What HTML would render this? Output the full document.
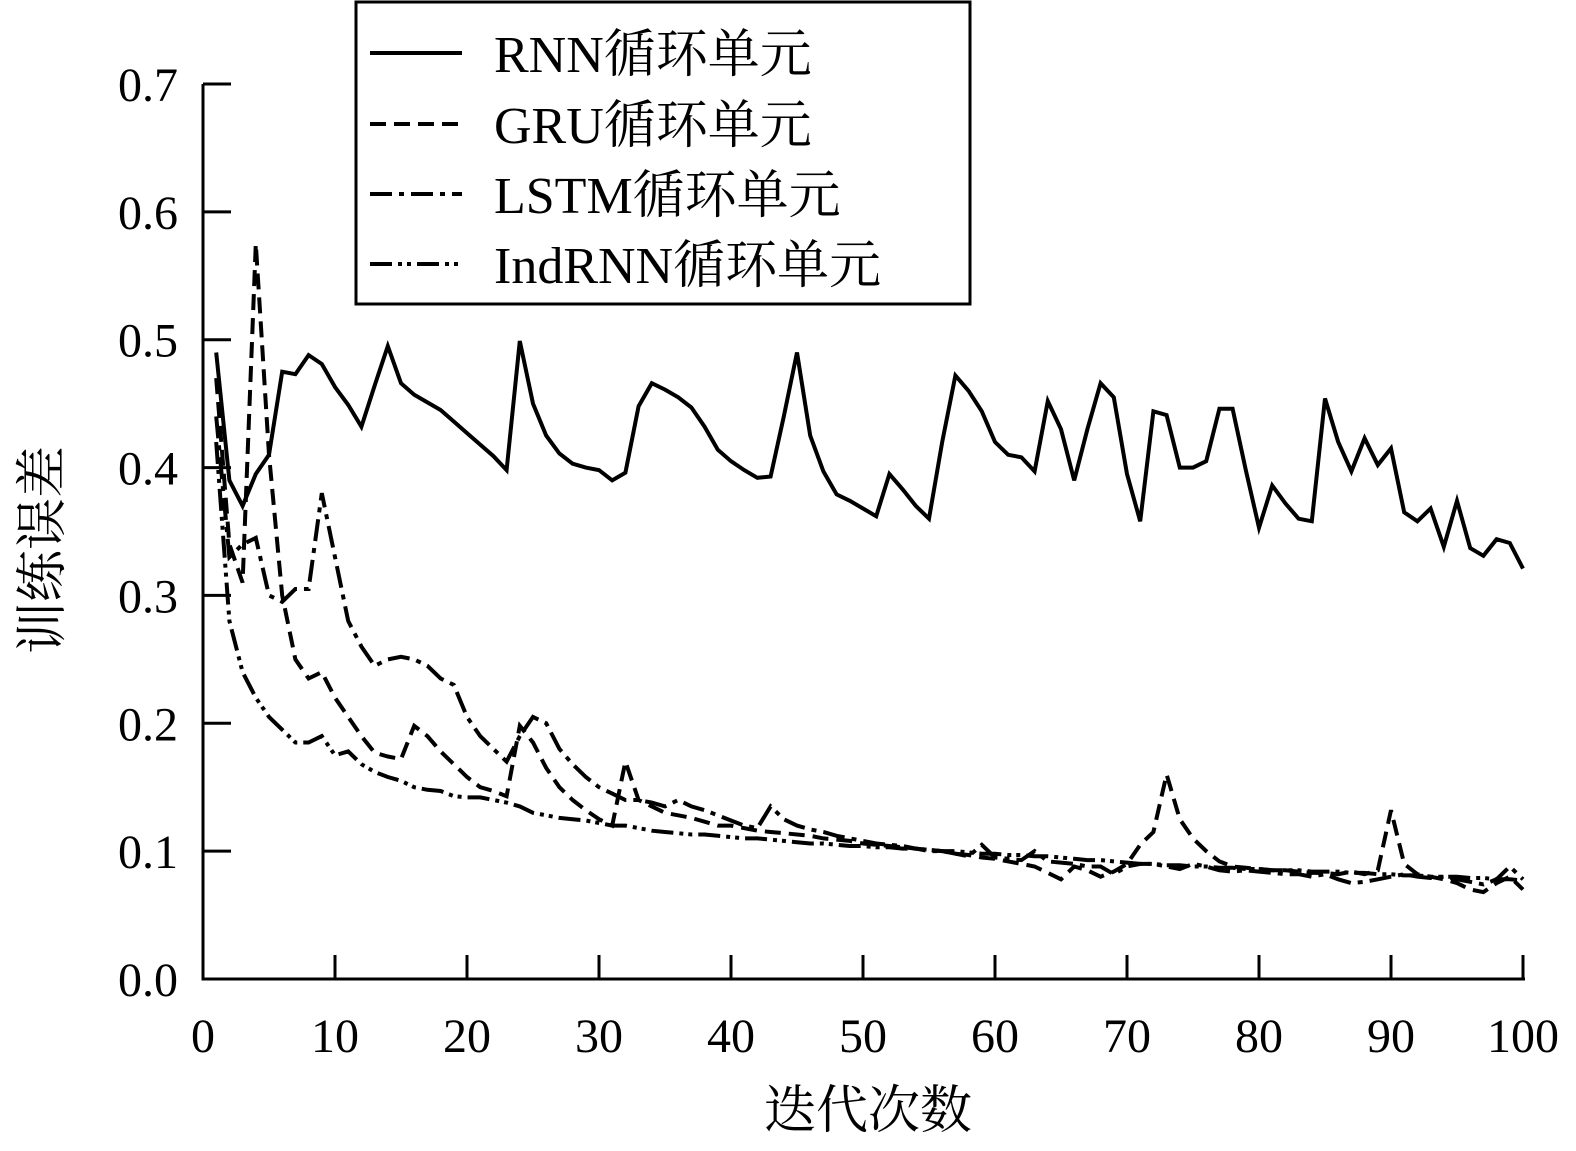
<!DOCTYPE html>
<html><head><meta charset="utf-8"><style>
html,body{margin:0;padding:0;background:#fff;}
svg{display:block;}
text{font-family:"Liberation Serif","Noto Serif CJK SC",serif;fill:#000;}
</style></head><body>
<svg id="chart" width="1576" height="1151" viewBox="0 0 1576 1151" xmlns="http://www.w3.org/2000/svg">
<g id="plot"></g>
<g id="axes"></g>
<text x="0" y="0" font-size="52" text-anchor="middle" transform="translate(60,550) rotate(-90)">训练误差</text>
<text x="868" y="1128" font-size="52" text-anchor="middle">迭代次数</text>
<g>
<rect x="356" y="2" width="614" height="302" fill="#fff" stroke="#000" stroke-width="3"/>
<line x1="370" y1="53" x2="462" y2="53" stroke="#000" stroke-width="4"/>
<text x="494" y="72" font-size="52">RNN循环单元</text>
<line x1="370" y1="124" x2="462" y2="124" stroke="#000" stroke-width="4" stroke-dasharray="16 8"/>
<text x="494" y="143" font-size="52">GRU循环单元</text>
<line x1="370" y1="194" x2="462" y2="194" stroke="#000" stroke-width="4" stroke-dasharray="22 7 5 7"/>
<text x="494" y="213" font-size="52">LSTM循环单元</text>
<line x1="370" y1="264" x2="462" y2="264" stroke="#000" stroke-width="4" stroke-dasharray="22 6 4 5 4 6"/>
<text x="494" y="283" font-size="52">IndRNN循环单元</text>
</g>
</svg>
<script>
const xTicks = [0,10,20,30,40,50,60,70,80,90,100];
const yTicks = [0.0,0.1,0.2,0.3,0.4,0.5,0.6,0.7];
const yTickLabels = ["0.0","0.1","0.2","0.3","0.4","0.5","0.6","0.7"];
const rnn = [0.49,0.39,0.37,0.395,0.41,0.475,0.473,0.488,0.481,0.463,0.449,0.432,0.464,0.495,0.466,0.457,0.451,0.445,0.436,0.427,0.418,0.409,0.398,0.499,0.45,0.425,0.411,0.403,0.4,0.398,0.39,0.396,0.448,0.466,0.461,0.455,0.447,0.432,0.414,0.405,0.398,0.392,0.393,0.44,0.49,0.425,0.397,0.379,0.374,0.368,0.362,0.395,0.383,0.37,0.36,0.42,0.472,0.46,0.444,0.42,0.41,0.408,0.397,0.452,0.43,0.39,0.43,0.466,0.455,0.395,0.358,0.444,0.441,0.4,0.4,0.405,0.446,0.446,0.398,0.353,0.386,0.372,0.36,0.358,0.454,0.42,0.397,0.423,0.402,0.415,0.365,0.358,0.368,0.338,0.374,0.337,0.331,0.344,0.341,0.321];
const gru = [0.47,0.34,0.31,0.575,0.41,0.3,0.25,0.235,0.24,0.22,0.205,0.19,0.177,0.174,0.172,0.198,0.19,0.178,0.168,0.158,0.15,0.147,0.143,0.198,0.185,0.165,0.15,0.14,0.132,0.125,0.12,0.17,0.14,0.135,0.13,0.128,0.126,0.123,0.12,0.12,0.118,0.116,0.115,0.114,0.113,0.112,0.11,0.109,0.108,0.106,0.105,0.104,0.103,0.102,0.101,0.1,0.098,0.097,0.095,0.094,0.092,0.09,0.088,0.083,0.078,0.088,0.085,0.08,0.084,0.09,0.105,0.115,0.16,0.125,0.11,0.1,0.092,0.088,0.087,0.086,0.085,0.085,0.084,0.083,0.083,0.082,0.084,0.082,0.085,0.132,0.09,0.082,0.08,0.078,0.075,0.07,0.068,0.075,0.08,0.07];
const lstm = [0.44,0.33,0.34,0.345,0.3,0.295,0.305,0.305,0.38,0.33,0.28,0.26,0.245,0.25,0.252,0.25,0.245,0.235,0.23,0.205,0.19,0.18,0.17,0.19,0.205,0.2,0.18,0.168,0.158,0.15,0.145,0.14,0.14,0.138,0.135,0.14,0.135,0.132,0.128,0.124,0.12,0.118,0.135,0.125,0.12,0.117,0.115,0.112,0.11,0.108,0.106,0.105,0.104,0.102,0.1,0.1,0.098,0.096,0.105,0.095,0.094,0.093,0.1,0.092,0.091,0.09,0.088,0.088,0.082,0.088,0.09,0.09,0.088,0.086,0.09,0.088,0.085,0.084,0.085,0.084,0.083,0.082,0.082,0.08,0.082,0.078,0.075,0.076,0.078,0.08,0.082,0.08,0.079,0.08,0.078,0.076,0.074,0.078,0.088,0.078];
const indrnn = [0.42,0.28,0.24,0.22,0.205,0.195,0.185,0.185,0.19,0.175,0.178,0.168,0.162,0.158,0.155,0.15,0.148,0.147,0.143,0.142,0.142,0.14,0.138,0.135,0.13,0.128,0.126,0.125,0.124,0.122,0.12,0.12,0.118,0.116,0.115,0.114,0.113,0.113,0.112,0.111,0.11,0.11,0.109,0.108,0.107,0.106,0.106,0.105,0.104,0.104,0.103,0.103,0.102,0.102,0.101,0.1,0.1,0.099,0.098,0.098,0.097,0.097,0.096,0.096,0.095,0.094,0.093,0.093,0.092,0.091,0.09,0.09,0.089,0.089,0.088,0.088,0.087,0.087,0.086,0.086,0.085,0.085,0.085,0.084,0.084,0.084,0.083,0.083,0.082,0.082,0.081,0.081,0.08,0.08,0.08,0.079,0.079,0.078,0.078,0.077];

const X0=203,X1=1523,Y0=979,Y1=84;
const xs=v=>X0+(v-0)/(100-0)*(X1-X0);
const ys=v=>Y0-(v-0)/(0.7-0)*(Y0-Y1);
const NS="http://www.w3.org/2000/svg";
const plot=document.getElementById('plot');
const axes=document.getElementById('axes');
function mk(tag,attrs,parent){const e=document.createElementNS(NS,tag);for(const k in attrs)e.setAttribute(k,attrs[k]);parent.appendChild(e);return e;}

const series=[[rnn,'series-rnn',''],[gru,'series-gru','16 8'],[lstm,'series-lstm','22 7 5 7'],[indrnn,'series-indrnn','22 6 4 5 4 6']];
series.forEach(([d,name,dash])=>{
  const pts=d.map((v,i)=>xs(i+1).toFixed(1)+','+ys(v).toFixed(1)).join(' ');
  const p=mk('polyline',{points:pts,fill:'none',stroke:'#000','stroke-width':4,'stroke-linejoin':'miter'},plot);
  if(dash)p.setAttribute('stroke-dasharray',dash);
  
  
});

const xa=mk('line',{x1:X0,y1:Y0,x2:X1+2,y2:Y0,stroke:'#000','stroke-width':3},axes);


const ya=mk('line',{x1:X0,y1:Y0+1.5,x2:X0,y2:Y1,stroke:'#000','stroke-width':3},axes);


xTicks.forEach(t=>{
  const l=mk('line',{x1:xs(t),y1:Y0,x2:xs(t),y2:Y0-24,stroke:'#000','stroke-width':3},axes);
  
  
  const tx=mk('text',{x:xs(t),y:1052,'font-size':48,'text-anchor':'middle'},axes);
  tx.textContent=String(t);
  
  
});
yTicks.forEach((t,i)=>{
  const l=mk('line',{x1:X0,y1:ys(t),x2:X0+28,y2:ys(t),stroke:'#000','stroke-width':3},axes);
  
  
  const tx=mk('text',{x:178,y:ys(t)+17,'font-size':48,'text-anchor':'end'},axes);
  tx.textContent=yTickLabels[i];
  
  
});
</script>
</body></html>
